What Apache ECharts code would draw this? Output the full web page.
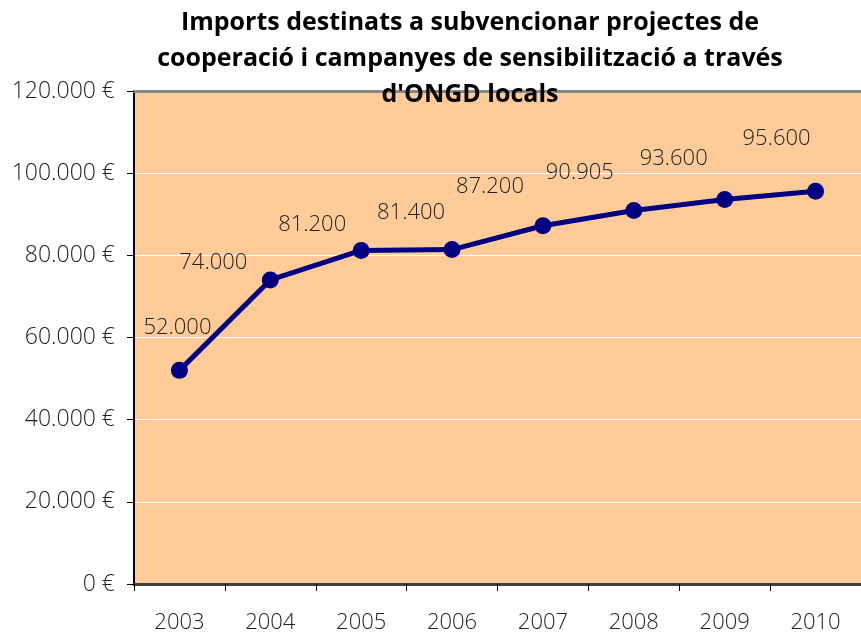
<!DOCTYPE html>
<html>
<head>
<meta charset="utf-8">
<script src="https://cdn.jsdelivr.net/npm/echarts@6/dist/echarts.min.js"></script>
<style>html,body{margin:0;padding:0;background:#fff;}#c{width:861px;height:637px;}</style>
</head>
<body>
<div id="c"></div>
<script>
const titleLines = ["Imports destinats a subvencionar projectes de", "cooperació i campanyes de sensibilització a través", "d'ONGD locals"];
const years = ["2003", "2004", "2005", "2006", "2007", "2008", "2009", "2010"];
const amounts = [52000, 74000, 81200, 81400, 87200, 90905, 93600, 95600];
const labelOffsets = [[-2,-43],[-57,-17],[-49,-26],[-41,-37],[-53,-39],[-54,-38],[-51,-41],[-39,-53]];

function fmt(v){ return String(v).replace(/\B(?=(\d{3})+(?!\d))/g, '.'); }

const FONT = '"Open Sans", "DejaVu Sans", sans-serif';
const chart = echarts.init(document.getElementById('c'), null, {renderer:'canvas'});
chart.setOption({
  animation: false,
  backgroundColor: '#ffffff',
  title: {
    text: titleLines.join('\n'),
    left: 465, top: 0, textAlign: 'center',
    textStyle: {fontFamily: FONT, fontSize: 25, fontWeight: 'bold', color: '#000', lineHeight: 36}
  },
  grid: {left: 134, right: -1, top: 91, bottom: 53, show: true, backgroundColor: '#FFCC99', borderWidth: 0},
  xAxis: [{
    type: 'category', data: years, boundaryGap: true,
    axisLine: {lineStyle: {color: '#404040', width: 3}},
    axisTick: {show: true, length: 7, lineStyle: {color: '#000', width: 1}},
    axisLabel: {fontFamily: FONT, fontSize: 22, fontWeight: 300, color: '#222', margin: 28}
  }, {
    type: 'category', data: years, position: 'top',
    axisLine: {show: true, lineStyle: {color: '#888888', width: 3}},
    axisTick: {show: false}, axisLabel: {show: false}
  }],
  yAxis: {
    type: 'value', min: 0, max: 120000, interval: 20000,
    axisLine: {show: true, lineStyle: {color: '#000', width: 2}},
    axisTick: {show: true, length: 7, lineStyle: {color: '#000'}},
    splitLine: {show: true, lineStyle: {color: '#ffffff', width: 1}},
    axisLabel: {fontFamily: FONT, fontSize: 23, fontWeight: 300, color: '#222', margin: 19,
      formatter: v => fmt(v) + ' €'}
  },
  series: [{
    type: 'line', data: amounts.map((v,i) => ({value: v, label: {offset: labelOffsets[i]}})),
    symbol: 'circle', symbolSize: 17,
    lineStyle: {color: '#000080', width: 5},
    itemStyle: {color: '#000080'},
    label: {show: true, position: 'inside', fontFamily: FONT, fontSize: 22, fontWeight: 300, color: '#222',
      formatter: p => fmt(p.value)}
  }]
});
</script>
</body>
</html>
